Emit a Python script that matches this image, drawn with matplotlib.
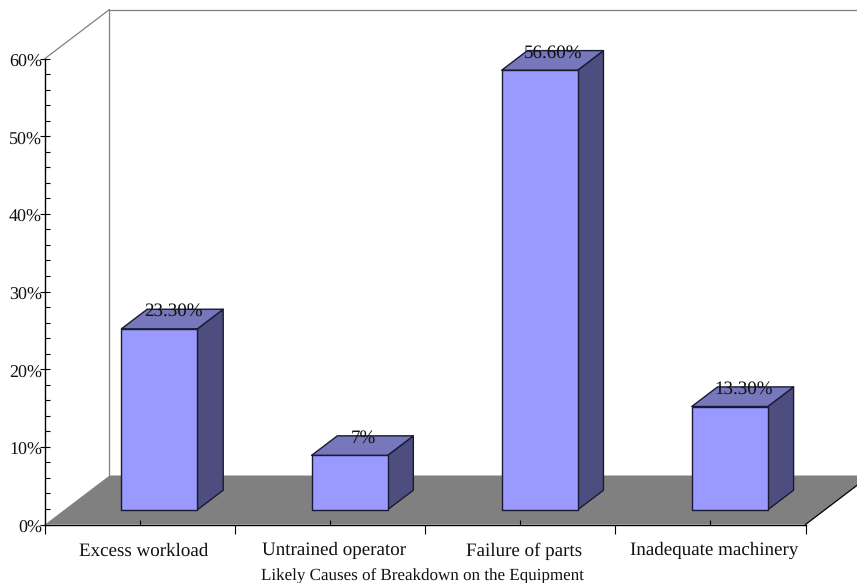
import matplotlib
matplotlib.use("Agg")
import matplotlib.pyplot as plt
from matplotlib.patches import Polygon
from matplotlib.transforms import ScaledTranslation

categories = ["Excess workload", "Untrained operator", "Failure of parts", "Inadequate machinery"]
values = [23.3, 7, 56.6, 13.3]
value_labels = ["23.30%", "7%", "56.60%", "13.30%"]
y_ticks = [0, 10, 20, 30, 40, 50, 60]
y_tick_labels = ["0%", "10%", "20%", "30%", "40%", "50%", "60%"]
x_title = "Likely Causes of Breakdown on the Equipment"

W, H = 857, 583
plt.rcParams["font.family"] = ["Liberation Serif", "DejaVu Serif"]
plt.rcParams["text.hinting"] = "no_hinting"
plt.rcParams["text.hinting_factor"] = 1
FS = 13.4
FS_Y = 13.0
FS_TITLE = 12.55
fig = plt.figure(figsize=(W / 100, H / 100), dpi=100)
L, R, T, B = 45, 805.5, 58.5, 524.5
ax = fig.add_axes([L / W, 1 - B / H, (R - L) / W, (B - T) / H])
n = len(categories)
ax.set_xlim(0, n)
ax.set_ylim(0, 60)

# 3D depth of the chart box, in data units
px_x = (R - L) / n
px_y = (B - T) / 60
DX, DY = 64.5 / px_x, 49 / px_y
GREY = "#808080"

def poly(pts, fc, ec, lw=1.0, z=2):
    ax.add_patch(Polygon(pts, closed=True, facecolor=fc, edgecolor=ec, linewidth=lw,
                         zorder=z, clip_on=False, joinstyle="round"))

# back wall outline and side wall
ax.plot([0, DX, DX], [60, 60 + DY, DY], color=GREY, lw=0.9, zorder=1, clip_on=False)
ax.plot([DX, n + DX], [60 + DY, 60 + DY], color=GREY, lw=0.9, zorder=1, clip_on=False)
# floor
poly([(0, 0), (DX, DY), (n + DX, DY), (n, 0)], GREY, "none", 0, 1)
ax.plot([n, n + DX], [0, DY], color="black", lw=0.9, zorder=1.5, clip_on=False)

# bars
bar_w = 76 / px_x
d0, d1 = 0.30, 0.70
for i, (v, lab) in enumerate(zip(values, value_labels)):
    x0 = i + 0.5 - bar_w / 2 + d0 * DX
    x1 = x0 + bar_w
    y0 = d0 * DY
    y1 = y0 + v
    ox, oy = (d1 - d0) * DX, (d1 - d0) * DY
    poly([(x1, y0), (x1 + ox, y0 + oy), (x1 + ox, y1 + oy), (x1, y1)], "#4D4D80", "#1a1a33", z=3)
    poly([(x0, y1), (x0 + ox, y1 + oy), (x1 + ox, y1 + oy), (x1, y1)], "#7777BB", "#1a1a33", z=3)
    poly([(x0, y0), (x1, y0), (x1, y1), (x0, y1)], "#9999FF", "#1a1a33", z=4)
    ax.annotate(lab, (x0 + (bar_w + ox) / 2, y1 + oy), xytext=(0.7, -1.5),
                textcoords="offset points", ha="center", va="center",
                fontsize=FS, color="#111111", zorder=6, annotation_clip=False)

# axes
for s in ("top", "right"):
    ax.spines[s].set_visible(False)
for s in ("left", "bottom"):
    ax.spines[s].set_linewidth(1.0)
    ax.spines[s].set_zorder(5)
ax.patch.set_visible(False)

ax.set_yticks(y_ticks)
ax.set_yticklabels(y_tick_labels, fontsize=FS_Y, color="#111111")
ax.set_yticks([v for v in range(0, 61, 2) if v % 10], minor=True)
ax.tick_params(axis="y", which="major", direction="inout", length=7.2, width=0.8, pad=-1.5)
ax.tick_params(axis="y", which="minor", direction="in", length=3.6, width=0.8)
shift = ScaledTranslation(0, -2.0 / 100, fig.dpi_scale_trans)
for t in ax.get_yticklabels():
    t.set_transform(t.get_transform() + shift)

ax.set_xticks(range(n + 1))
ax.set_xticklabels([""] * (n + 1))
ax.set_xticks([i + 0.5 for i in range(n)], minor=True)
ax.set_xticklabels(categories, minor=True, fontsize=FS, color="#111111")
ax.tick_params(axis="x", which="major", direction="out", length=6.5, width=0.8)
ax.tick_params(axis="x", which="minor", direction="in", length=3.6, width=0.8, pad=12.7)
shift_x = ScaledTranslation(3.5 / 100, 0, fig.dpi_scale_trans)
for t in ax.get_xticklabels(minor=True):
    t.set_transform(t.get_transform() + shift_x)
ax.set_xlabel(x_title, fontsize=FS_TITLE, labelpad=6.2, color="#111111", x=0.5 - 3 / (R - L))

fig.savefig("out.png", dpi=100)
